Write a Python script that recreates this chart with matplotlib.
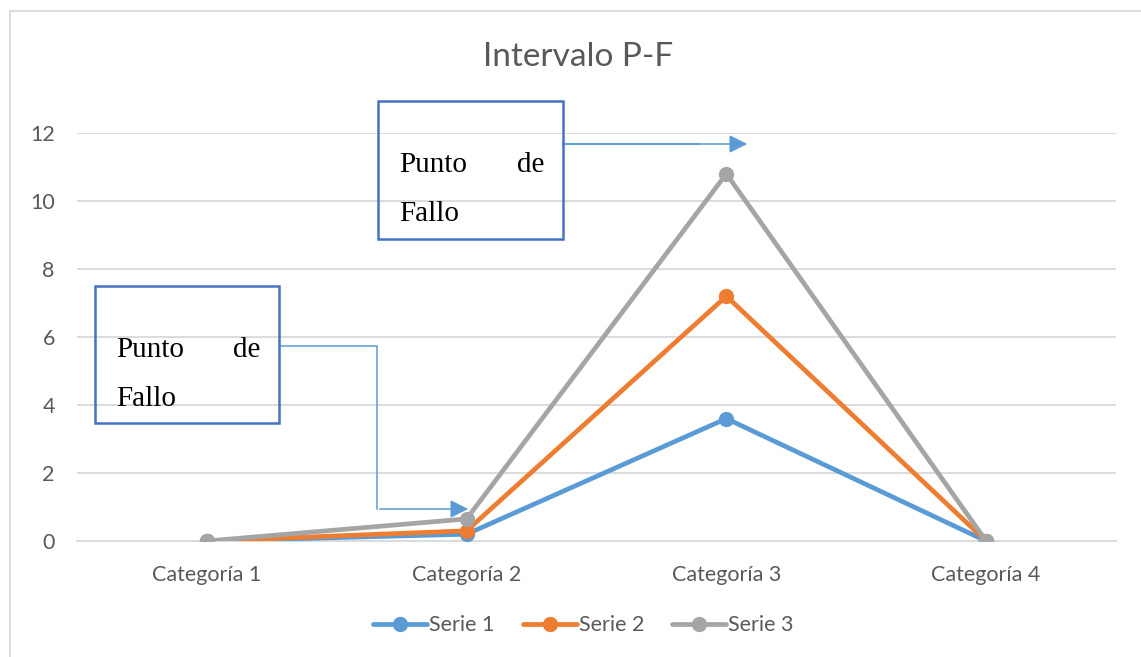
import matplotlib.pyplot as plt
from matplotlib.patches import Rectangle

# data
categorias = ['Categoría 1', 'Categoría 2', 'Categoría 3', 'Categoría 4']
serie1 = [0, 0.2, 3.6, 0]
serie2 = [0, 0.3, 7.2, 0]
serie3 = [0, 0.65, 10.8, 0]
series = ['Serie 1', 'Serie 2', 'Serie 3']
colores = ['#5B9BD5', '#ED7D31', '#A5A5A5']

plt.rcParams['font.family'] = ['Lato', 'DejaVu Sans']

W, H = 1141, 657
fig = plt.figure(figsize=(W / 100, H / 100), dpi=100)
ax = fig.add_axes([77 / W, 1 - 541 / H, (1116 - 77) / W, (541 - 133) / H])

x = range(1, len(categorias) + 1)
for vals, nombre, c in zip([serie1, serie2, serie3], series, colores):
    ax.plot(x, vals, color=c, lw=3.4, marker='o', ms=10, label=nombre,
            solid_capstyle='round', zorder=3)

ax.set_xlim(0.5, 4.5)
ax.set_ylim(0, 12)
ax.set_yticks(range(0, 13, 2))
ax.set_xticks(list(x))
ax.set_xticklabels(categorias)
ax.grid(axis='y', color='#D9D9D9', lw=1.3)
ax.set_axisbelow(True)
for s in ['top', 'right', 'left']:
    ax.spines[s].set_visible(False)
ax.spines['bottom'].set_color('#D9D9D9')
ax.spines['bottom'].set_linewidth(1.3)
ax.tick_params(length=0, labelsize=15.5, labelcolor='#595959')
ax.tick_params(axis='x', pad=17)
ax.tick_params(axis='y', pad=16)

fig.text(578 / W, 1 - 57 / H, 'Intervalo P-F', ha='center', va='center',
         fontsize=24, color='#595959')

ax.legend(loc='center', bbox_to_anchor=(0.4875, -0.206), ncol=3, frameon=False,
          fontsize=15.5, labelcolor='#595959', handlelength=2.5,
          handletextpad=0.1, columnspacing=1.3)

# outer chart border
fig.patches.append(Rectangle((10 / W, -0.1), 1.2, 1 - 11 / H + 0.1,
                             transform=fig.transFigure, fill=False,
                             ec='#D9D9D9', lw=1.3))

# text boxes
def caja(x0, y0, x1, y1):
    fig.patches.append(Rectangle((x0 / W, 1 - y1 / H), (x1 - x0) / W, (y1 - y0) / H,
                                 transform=fig.transFigure, fill=False,
                                 ec='#4472C4', lw=1.8, zorder=5))
    fig.text((x0 + 21) / W, 1 - (y0 + 64) / H, 'Punto', fontsize=21,
             family='Liberation Serif', va='center', ha='left')
    fig.text((x1 - 19) / W, 1 - (y0 + 64) / H, 'de', fontsize=21,
             family='Liberation Serif', va='center', ha='right')
    fig.text((x0 + 21) / W, 1 - (y0 + 113) / H, 'Fallo', fontsize=21,
             family='Liberation Serif', va='center', ha='left')

caja(378, 101, 563, 239)
caja(95, 286, 279, 423)

def px(p):
    return (p[0] / W, 1 - p[1] / H)

flecha = dict(arrowstyle='-|>,head_length=1.1,head_width=0.55', color='#5B9BD5', lw=1.1)
fig.add_artist(plt.Line2D([563 / W, 700 / W], [1 - 144 / H] * 2, color='#5B9BD5', lw=1.1))
ax.annotate('', xy=px((750, 144)), xycoords='figure fraction',
            xytext=px((563, 144)), textcoords='figure fraction', arrowprops=flecha)
fig.add_artist(plt.Line2D([281 / W, 377 / W, 377 / W], [1 - 346 / H, 1 - 346 / H, 1 - 509 / H],
                          color='#5B9BD5', lw=1.1))
ax.annotate('', xy=px((471, 509)), xycoords='figure fraction',
            xytext=px((377, 509)), textcoords='figure fraction', arrowprops=flecha)

plt.savefig('out.png', dpi=100)
